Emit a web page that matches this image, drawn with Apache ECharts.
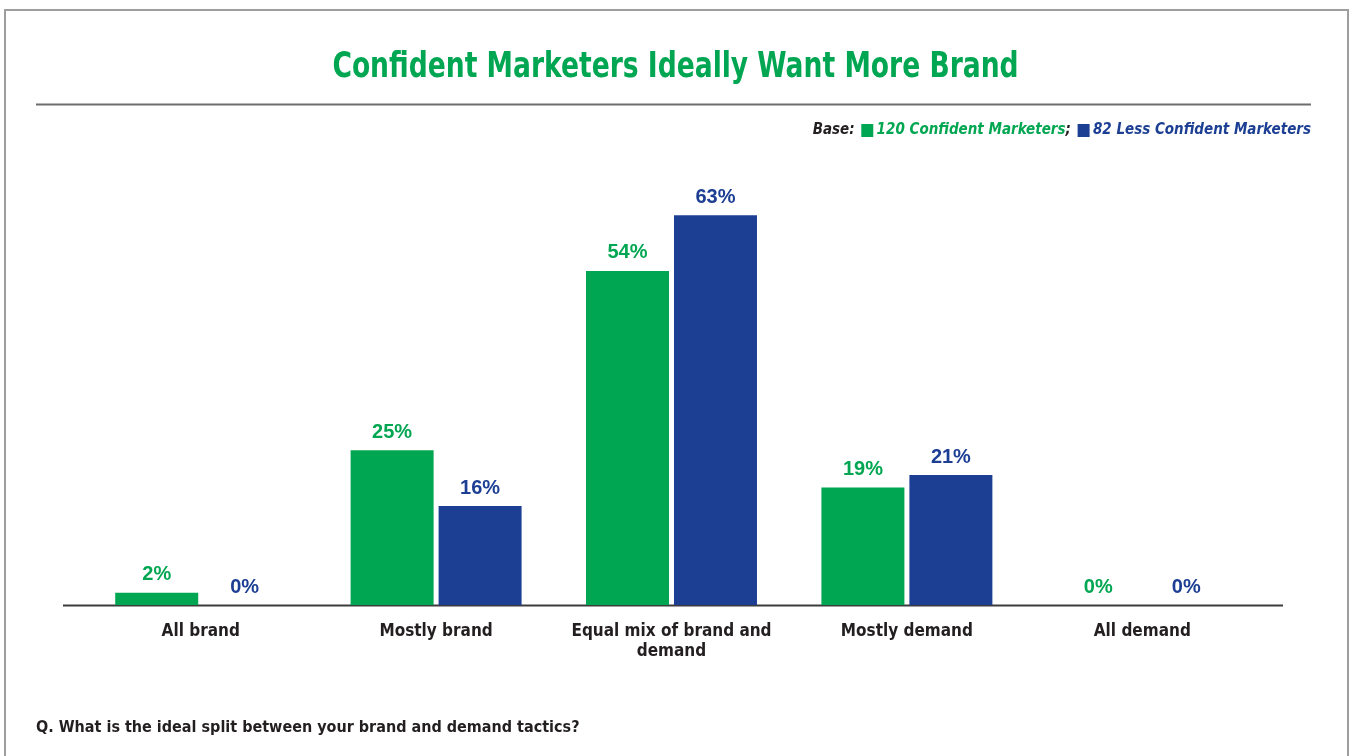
<!DOCTYPE html>
<html>
<head>
<meta charset="utf-8">
<script src="https://cdn.jsdelivr.net/npm/echarts@6/dist/echarts.min.js"></script>
<style>
  html, body { margin: 0; padding: 0; background: #fff; }
  #chart { width: 1351px; height: 756px; }
</style>
</head>
<body>
<div id="chart"></div>
<script>
// Ideal split between brand and demand tactics (% of respondents)
const categories = ['All brand', 'Mostly brand', 'Equal mix of brand and\ndemand', 'Mostly demand', 'All demand'];
const confident = [2, 25, 54, 19, 0];
const lessConfident = [0, 16, 63, 21, 0];
const seriesNames = ['120 Confident Marketers', '82 Less Confident Marketers'];

const GREEN = '#00A651';
const BLUE = '#1C3F94';
const DARK = '#231F20';
const NARROW = '"Liberation Sans Narrow", "DejaVu Sans Condensed", sans-serif';
const WIDE = '"Liberation Sans", Arial, sans-serif';

const chart = echarts.init(document.getElementById('chart'), null, { renderer: 'canvas' });

const valueLabel = (color) => ({
  show: true,
  position: 'top',
  distance: 8,
  formatter: '{c}%',
  color: color,
  fontFamily: WIDE,
  fontWeight: 'bold',
  fontSize: 20
});

chart.setOption({
  animation: false,
  backgroundColor: '#fff',
  grid: { left: 83, right: 91, top: 172, bottom: 151, containLabel: false },
  xAxis: {
    type: 'category',
    data: categories,
    axisLine: { show: false },
    axisTick: { show: false },
    axisLabel: {
      color: DARK,
      fontFamily: NARROW,
      fontWeight: 'bold',
      fontSize: 17,
      lineHeight: 20,
      margin: 17,
      interval: 0
    }
  },
  yAxis: {
    type: 'value',
    min: 0,
    max: 70,
    show: false,
    splitLine: { show: false }
  },
  series: [
    {
      name: seriesNames[0],
      type: 'bar',
      data: confident,
      barWidth: 83,
      barGap: '6%',
      itemStyle: { color: GREEN },
      label: valueLabel(GREEN)
    },
    {
      name: seriesNames[1],
      type: 'bar',
      data: lessConfident,
      barWidth: 83,
      barGap: '6%',
      itemStyle: { color: BLUE },
      label: valueLabel(BLUE)
    }
  ],
  graphic: [
    // outer frame
    { type: 'polyline', shape: { points: [[5, 756], [5, 10], [1348, 10], [1348, 756]] },
      style: { stroke: '#9E9E9E', lineWidth: 2, fill: null } },
    // title, condensed horizontally around the page centre
    { type: 'text', x: 675.5, y: 50, scaleX: 0.82, originX: 0,
      style: { text: 'Confident Marketers Ideally Want More Brand', fill: GREEN,
               font: 'bold 36px ' + NARROW, align: 'center', verticalAlign: 'top' } },
    // rule under title
    { type: 'line', shape: { x1: 36, y1: 104.5, x2: 1311, y2: 104.5 },
      style: { stroke: '#6D6D6D', lineWidth: 2 } },
    // base / legend line
    { type: 'text', right: 40, top: 123,
      style: {
        text: '{b|Base:}  {gs|} {g|120 Confident Marketers}{b|;}  {bs|} {bl|82 Less Confident Marketers}',
        rich: {
          b: { fill: DARK, font: 'italic bold 15px ' + NARROW },
          g: { fill: GREEN, font: 'italic bold 15px ' + NARROW },
          bl: { fill: BLUE, font: 'italic bold 15px ' + NARROW },
          gs: { backgroundColor: GREEN, width: 12, height: 13 },
          bs: { backgroundColor: BLUE, width: 12, height: 13 }
        }
      } },
    // baseline
    { type: 'line', shape: { x1: 63, y1: 605.5, x2: 1283, y2: 605.5 },
      style: { stroke: '#3C3C3C', lineWidth: 2 } },
    // question footnote
    { type: 'text', left: 36, top: 720,
      style: { text: 'Q. What is the ideal split between your brand and demand tactics?', fill: DARK,
               font: 'bold 16px ' + NARROW } }
  ]
});
</script>
</body>
</html>
